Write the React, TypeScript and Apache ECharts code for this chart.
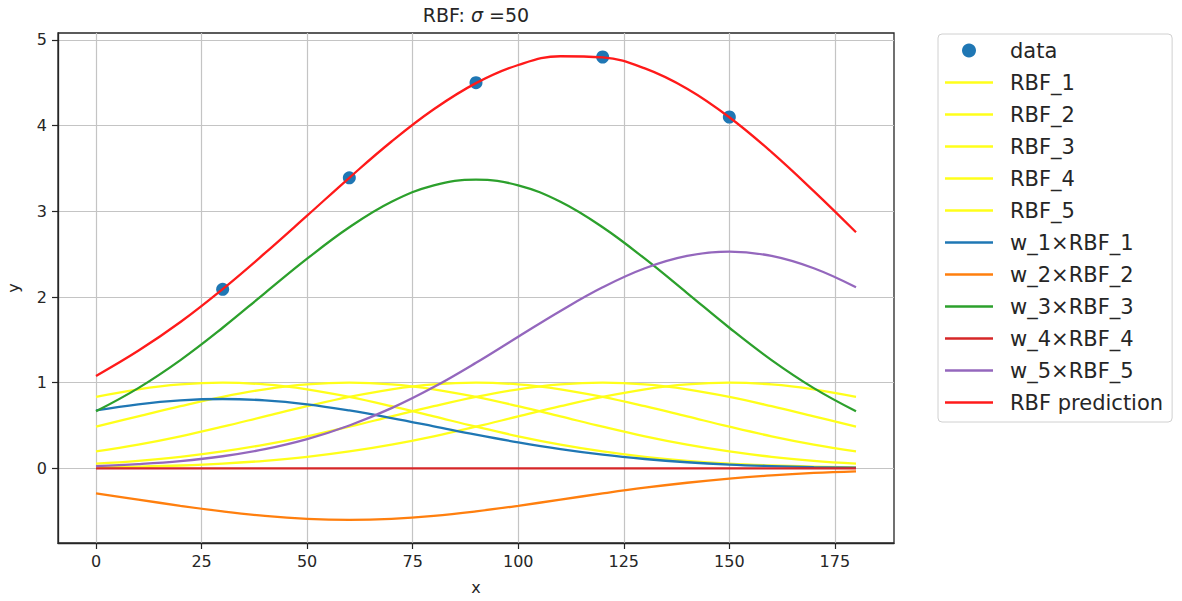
import React, { useEffect, useRef } from "react";
import * as echarts from "echarts";

// x positions where the curves were read
const xs = [0, 10, 20, 30, 40, 50, 60, 70, 80, 90, 100, 110, 120, 130, 140, 150, 160, 170, 180];

// observed data points
const dataX = [30, 60, 90, 120, 150];
const dataY = [2.09, 3.39, 4.5, 4.8, 4.1];

// basis functions
const rbf1 = [0.835, 0.923, 0.98, 1.0, 0.98, 0.923, 0.835, 0.726, 0.607, 0.487, 0.375, 0.278, 0.198, 0.135, 0.089, 0.056, 0.034, 0.02, 0.011];
const rbf2 = [0.487, 0.607, 0.726, 0.835, 0.923, 0.98, 1.0, 0.98, 0.923, 0.835, 0.726, 0.607, 0.487, 0.375, 0.278, 0.198, 0.135, 0.089, 0.056];
const rbf3 = [0.198, 0.278, 0.375, 0.487, 0.607, 0.726, 0.835, 0.923, 0.98, 1.0, 0.98, 0.923, 0.835, 0.726, 0.607, 0.487, 0.375, 0.278, 0.198];
const rbf4 = [0.056, 0.089, 0.135, 0.198, 0.278, 0.375, 0.487, 0.607, 0.726, 0.835, 0.923, 0.98, 1.0, 0.98, 0.923, 0.835, 0.726, 0.607, 0.487];
const rbf5 = [0.011, 0.02, 0.034, 0.056, 0.089, 0.135, 0.198, 0.278, 0.375, 0.487, 0.607, 0.726, 0.835, 0.923, 0.98, 1.0, 0.98, 0.923, 0.835];

// weighted basis functions
const w1rbf1 = [0.676, 0.748, 0.794, 0.81, 0.794, 0.748, 0.676, 0.588, 0.492, 0.394, 0.304, 0.225, 0.16, 0.11, 0.072, 0.045, 0.028, 0.016, 0.009];
const w2rbf2 = [-0.292, -0.364, -0.436, -0.501, -0.554, -0.588, -0.6, -0.588, -0.554, -0.501, -0.436, -0.364, -0.292, -0.225, -0.167, -0.119, -0.081, -0.053, -0.034];
const w3rbf3 = [0.667, 0.937, 1.264, 1.641, 2.046, 2.447, 2.814, 3.111, 3.303, 3.37, 3.303, 3.111, 2.814, 2.447, 2.046, 1.641, 1.264, 0.937, 0.667];
const w4rbf4 = [0, 0, 0, 0, 0, 0, 0, 0, 0, 0, 0, 0, 0, 0, 0, 0, 0, 0, 0];
const w5rbf5 = [0.028, 0.051, 0.086, 0.142, 0.225, 0.342, 0.501, 0.703, 0.949, 1.232, 1.536, 1.837, 2.113, 2.335, 2.479, 2.53, 2.479, 2.335, 2.113];

// RBF prediction
const prediction = [1.079, 1.372, 1.708, 2.092, 2.511, 2.949, 3.391, 3.814, 4.19, 4.495, 4.707, 4.809, 4.795, 4.667, 4.43, 4.097, 3.69, 3.235, 2.755];

// ticks
const xTicks = [0, 25, 50, 75, 100, 125, 150, 175];
const yTicks = [0, 1, 2, 3, 4, 5];

const FONT = "DejaVu Sans";
const TEXT = "#262626";
const YELLOW = "#ffff1a";
const LINE_ICON = "path://M0,0H48V2.3H0Z";

function pairs(ys: number[]) {
  return xs.map((x, i) => [x, ys[i]]);
}

function lineSeries(name: string, ys: number[], color: string) {
  return {
    name,
    type: "line",
    data: pairs(ys),
    smooth: 0.4,
    symbol: "none",
    showSymbol: false,
    lineStyle: { color, width: 2.3 },
    itemStyle: { color },
    emphasis: { disabled: true },
  };
}

const lineNames = [
  "RBF_1",
  "RBF_2",
  "RBF_3",
  "RBF_4",
  "RBF_5",
  "w_1×RBF_1",
  "w_2×RBF_2",
  "w_3×RBF_3",
  "w_4×RBF_4",
  "w_5×RBF_5",
  "RBF prediction",
];

export default function App() {
  const ref = useRef<HTMLDivElement>(null);

  useEffect(() => {
    document.body.style.margin = "0";
    const chart = echarts.init(ref.current!, null, { renderer: "svg" });
    const option = {
      animation: false,
      backgroundColor: "#ffffff",
      title: {
        text: "{n|RBF: }{s|σ}{n| =50}",
        left: 476,
        top: 5,
        padding: 0,
        textAlign: "center",
        textVerticalAlign: "top",
        textStyle: {
          fontWeight: "normal",
          rich: {
            n: { fontFamily: FONT, fontSize: 19, fontWeight: "normal", color: TEXT },
            s: { fontFamily: FONT, fontSize: 19, fontWeight: "normal", color: TEXT, fontStyle: "italic" },
          },
        },
      },
      grid: {
        left: 58,
        top: 33,
        width: 836,
        height: 510,
        containLabel: false,
        outerBoundsMode: "none",
        show: true,
        borderColor: TEXT,
        borderWidth: 1.3,
        backgroundColor: "transparent",
      },
      xAxis: {
        type: "value",
        min: -9,
        max: 189,
        name: "x",
        nameLocation: "middle",
        nameGap: 36,
        nameTextStyle: { fontFamily: FONT, fontSize: 16, color: TEXT },
        axisLine: { show: true, onZero: false, lineStyle: { color: TEXT, width: 1.3 } },
        axisTick: { show: true, length: 6, customValues: xTicks, lineStyle: { color: TEXT, width: 1.2 } },
        axisLabel: { customValues: xTicks, margin: 10, fontFamily: FONT, fontSize: 16, color: TEXT },
        splitLine: { show: true, lineStyle: { color: "#c4c4c4", width: 1.2 } },
      },
      yAxis: {
        type: "value",
        min: -0.87,
        max: 5.08,
        name: "y",
        nameLocation: "middle",
        nameGap: 37,
        nameRotate: 90,
        nameTextStyle: { fontFamily: FONT, fontSize: 16, color: TEXT },
        axisLine: { show: true, onZero: false, lineStyle: { color: TEXT, width: 1.3 } },
        axisTick: { show: true, length: 6, customValues: yTicks, lineStyle: { color: TEXT, width: 1.2 } },
        axisLabel: { customValues: yTicks, margin: 11, fontFamily: FONT, fontSize: 16, color: TEXT },
        splitLine: { show: true, lineStyle: { color: "#c4c4c4", width: 1.2 } },
      },
      legend: {
        orient: "vertical",
        left: 938,
        top: 34,
        padding: [6, 9, 9, 7],
        itemWidth: 48,
        itemHeight: 14,
        itemGap: 11,
        selectedMode: false,
        borderColor: "#d0d0d0",
        borderWidth: 1,
        borderRadius: 4,
        backgroundColor: "rgba(255,255,255,0.8)",
        textStyle: { fontFamily: FONT, fontSize: 21, color: TEXT, lineHeight: 21, padding: [0, 0, 0, 12] },
        data: [
          { name: "data", icon: "circle" },
          ...lineNames.map((n) => ({ name: n, icon: LINE_ICON })),
        ],
      },
      series: [
        {
          name: "data",
          type: "scatter",
          data: dataX.map((x, i) => [x, dataY[i]]),
          symbol: "circle",
          symbolSize: 13,
          itemStyle: { color: "#1f77b4", opacity: 1 },
          emphasis: { disabled: true },
        },
        lineSeries("RBF_1", rbf1, YELLOW),
        lineSeries("RBF_2", rbf2, YELLOW),
        lineSeries("RBF_3", rbf3, YELLOW),
        lineSeries("RBF_4", rbf4, YELLOW),
        lineSeries("RBF_5", rbf5, YELLOW),
        lineSeries("w_1×RBF_1", w1rbf1, "#1f77b4"),
        lineSeries("w_2×RBF_2", w2rbf2, "#ff7f0e"),
        lineSeries("w_3×RBF_3", w3rbf3, "#2ca02c"),
        lineSeries("w_4×RBF_4", w4rbf4, "#d62728"),
        lineSeries("w_5×RBF_5", w5rbf5, "#9467bd"),
        lineSeries("RBF prediction", prediction, "#ff1a1a"),
      ],
    };
    chart.setOption(option as any);
    return () => chart.dispose();
  }, []);

  return <div ref={ref} style={{ width: 1182, height: 601 }} />;
}
